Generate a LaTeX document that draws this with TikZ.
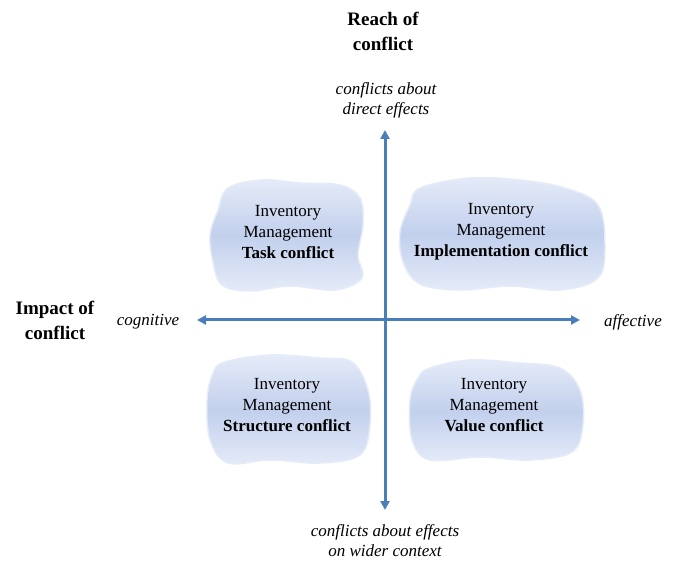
\documentclass[tikz,border=0pt]{standalone}
\usepackage{fontspec}
\setmainfont{Liberation Serif}
\usepackage{tikz}
\usetikzlibrary{arrows.meta, positioning}

\definecolor{axisblue}{RGB}{74,126,187}
\definecolor{blobmid}{RGB}{194,208,237}
\definecolor{blobedge}{RGB}{229,235,248}

\tikzset{
  axis/.style={axisblue, line width=3pt, {Triangle[length=9pt,width=9pt]}-{Triangle[length=9pt,width=9pt]}},
  blob/.style={top color=blobedge, bottom color=blobedge, middle color=blobmid, draw=blobedge, line width=1.5pt},
  blobtext/.style={align=center, font=\fontsize{17}{21}\selectfont},
  heading/.style={align=center, font=\fontsize{19}{25}\selectfont\bfseries},
  pole/.style={align=center, font=\fontsize{17}{20}\selectfont\itshape}
}

\begin{document}
\begin{tikzpicture}[x=1pt,y=-1pt]
\useasboundingbox (0,0) rectangle (678,561);

\coordinate (N) at (385,130);
\coordinate (S) at (385,510);
\coordinate (W) at (197,320);
\coordinate (E) at (580,320);

% clouds
\path[blob] plot[smooth cycle, tension=.6] coordinates {(228,188) (262,180) (300,183) (340,185) (360,198) (363,225) (358,255) (362,278) (335,290) (290,286) (250,291) (222,285) (213,262) (210,235) (218,210)};
\path[blob] plot[smooth cycle, tension=.6] coordinates {(420,188) (470,178) (520,180) (565,188) (598,205) (605,245) (598,278) (560,290) (510,286) (460,290) (420,284) (403,262) (400,232) (410,205)};
\path[blob] plot[smooth cycle, tension=.6] coordinates {(225,362) (270,355) (320,358) (352,362) (368,390) (370,425) (360,455) (320,463) (270,460) (228,463) (210,440) (207,400) (213,373)};
\path[blob] plot[smooth cycle, tension=.6] coordinates {(430,368) (470,360) (520,363) (560,368) (580,390) (583,425) (572,452) (530,460) (480,457) (430,460) (412,440) (410,400) (418,378)};

\draw[axis] (S) -- (N);
\draw[axis] (W) -- (E);

\node[blobtext] (task) at (288,232) {Inventory\\Management\\\textbf{Task conflict}};
\node[blobtext] (impl) at (501,232) {Inventory\\Management\\\textbf{Implementation conflict}};
\node[blobtext] (struct) at (287,405) {Inventory\\Management\\\textbf{Structure conflict}};
\node[blobtext] (value) at (494,405) {Inventory\\Management\\\textbf{Value conflict}};

\node[heading] (reach) at (383,31) {Reach of\\conflict};
\node[heading] (impact) at (55,320) {Impact of\\conflict};

\node[pole] (direct) at (386,100) {conflicts about\\direct effects};
\node[pole] (wider) at (385,541) {conflicts about effects\\on wider context};
\node[pole] (cogn) at (148,322) {cognitive};
\node[pole] (affect) at (633,322) {affective};
\end{tikzpicture}
\end{document}
